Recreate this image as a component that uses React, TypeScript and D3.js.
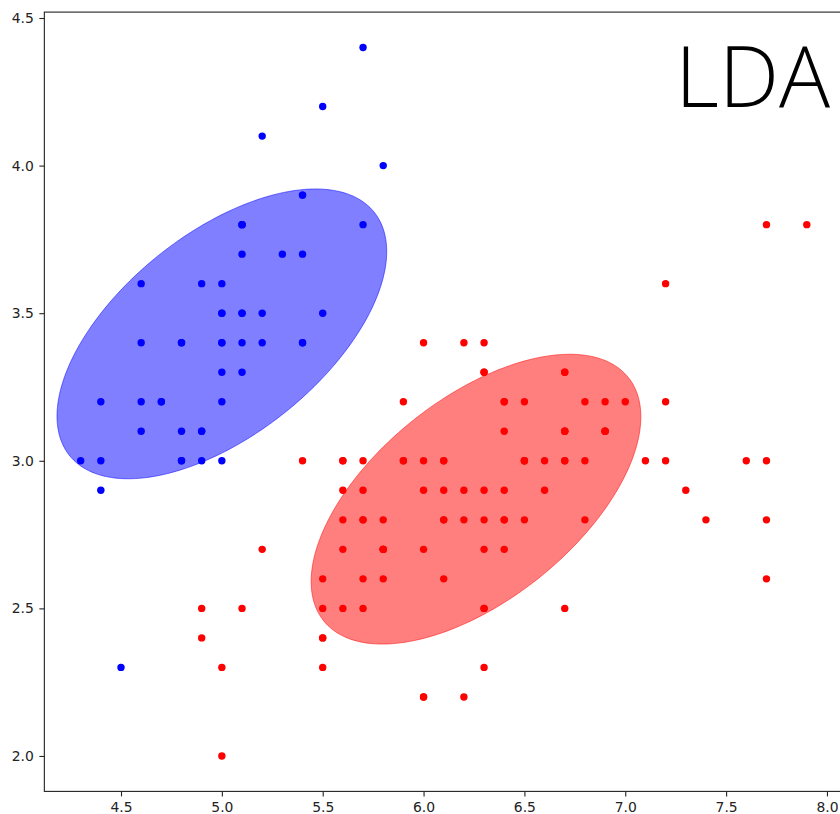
import React, { useEffect, useRef } from "react";
import * as d3 from "d3";

// sepal length / sepal width, class 0 (blue)
const blueLength = [
  5.1, 4.9, 4.7, 4.6, 5.0, 5.4, 4.6, 5.0, 4.4, 4.9, 5.4, 4.8, 4.8, 4.3, 5.8, 5.7, 5.4,
  5.1, 5.7, 5.1, 5.4, 5.1, 4.6, 5.1, 4.8, 5.0, 5.0, 5.2, 5.2, 4.7, 4.8, 5.4, 5.2, 5.5,
  4.9, 5.0, 5.5, 4.9, 4.4, 5.1, 5.0, 4.5, 4.4, 5.0, 5.1, 4.8, 5.1, 4.6, 5.3, 5.0,
];
const blueWidth = [
  3.5, 3.0, 3.2, 3.1, 3.6, 3.9, 3.4, 3.4, 2.9, 3.1, 3.7, 3.4, 3.0, 3.0, 4.0, 4.4, 3.9,
  3.5, 3.8, 3.8, 3.4, 3.7, 3.6, 3.3, 3.4, 3.0, 3.4, 3.5, 3.4, 3.2, 3.1, 3.4, 4.1, 4.2,
  3.1, 3.2, 3.5, 3.6, 3.0, 3.4, 3.5, 2.3, 3.2, 3.5, 3.8, 3.0, 3.8, 3.2, 3.7, 3.3,
];

// class 1 (red)
const redLength = [
  7.0, 6.4, 6.9, 5.5, 6.5, 5.7, 6.3, 4.9, 6.6, 5.2, 5.0, 5.9, 6.0, 6.1, 5.6, 6.7, 5.6,
  5.8, 6.2, 5.6, 5.9, 6.1, 6.3, 6.1, 6.4, 6.6, 6.8, 6.7, 6.0, 5.7, 5.5, 5.5, 5.8, 6.0,
  5.4, 6.0, 6.7, 6.3, 5.6, 5.5, 5.5, 6.1, 5.8, 5.0, 5.6, 5.7, 5.7, 6.2, 5.1, 5.7,
  6.3, 5.8, 7.1, 6.3, 6.5, 7.6, 4.9, 7.3, 6.7, 7.2, 6.5, 6.4, 6.8, 5.7, 5.8, 6.4, 6.5,
  7.7, 7.7, 6.0, 6.9, 5.6, 7.7, 6.3, 6.7, 7.2, 6.2, 6.1, 6.4, 7.2, 7.4, 7.9, 6.4, 6.3,
  6.1, 7.7, 6.3, 6.4, 6.0, 6.9, 6.7, 6.9, 5.8, 6.8, 6.7, 6.7, 6.3, 6.5, 6.2, 5.9,
];
const redWidth = [
  3.2, 3.2, 3.1, 2.3, 2.8, 2.8, 3.3, 2.4, 2.9, 2.7, 2.0, 3.0, 2.2, 2.9, 2.9, 3.1, 3.0,
  2.7, 2.2, 2.5, 3.2, 2.8, 2.5, 2.8, 2.9, 3.0, 2.8, 3.0, 2.9, 2.6, 2.4, 2.4, 2.7, 2.7,
  3.0, 3.4, 3.1, 2.3, 3.0, 2.5, 2.6, 3.0, 2.6, 2.3, 2.7, 3.0, 2.9, 2.9, 2.5, 2.8,
  3.3, 2.7, 3.0, 2.9, 3.0, 3.0, 2.5, 2.9, 2.5, 3.6, 3.2, 2.7, 3.0, 2.5, 2.8, 3.2, 3.0,
  3.8, 2.6, 2.2, 3.2, 2.8, 2.8, 2.7, 3.3, 3.2, 2.8, 3.0, 2.8, 3.0, 2.8, 3.8, 2.8, 2.8,
  2.6, 3.0, 3.4, 3.1, 3.0, 3.1, 3.1, 3.1, 2.7, 3.2, 3.3, 3.0, 2.5, 3.0, 3.4, 3.0,
];

// ellipse centres (data units) and shared shape matrix [xx, xy, yy]
const ellipseCenters = [
  [5.0, 3.43],
  [6.26, 2.87],
];
const ellipseColors = ["blue", "red"];
const ellipseShape = [0.668, 0.228, 0.241];

const xTicks = [4.5, 5.0, 5.5, 6.0, 6.5, 7.0, 7.5, 8.0];
const yTicks = [2.0, 2.5, 3.0, 3.5, 4.0, 4.5];

const title = "LDA";

function App() {
  const ref = useRef<SVGSVGElement>(null);

  useEffect(() => {
    const svg = d3.select(ref.current);
    svg.selectAll("*").remove();

    const allX = blueLength.concat(redLength);
    const allY = blueWidth.concat(redWidth);
    const [x0, x1] = d3.extent(allX) as [number, number];
    const [y0, y1] = d3.extent(allY) as [number, number];
    const padX = (x1 - x0) * 0.05;
    const padY = (y1 - y0) * 0.05;

    const x = d3.scaleLinear().domain([x0 - padX, x1 + padX]).range([44.35, 843.1]);
    const y = d3.scaleLinear().domain([y0 - padY, y1 + padY]).range([791.4, 12.1]);

    // ellipses, drawn from the shape matrix through its cholesky factor
    const l11 = Math.sqrt(ellipseShape[0]);
    const l21 = ellipseShape[1] / l11;
    const l22 = Math.sqrt(ellipseShape[2] - l21 * l21);
    const ts = d3.range(0, 2 * Math.PI, Math.PI / 90);

    ellipseCenters.forEach((c, i) => {
      const ell = d3.line<number>()
        .x(t => x(c[0] + l11 * Math.cos(t)))
        .y(t => y(c[1] + l21 * Math.cos(t) + l22 * Math.sin(t)))
        .curve(d3.curveLinearClosed);
      svg.append("path")
        .attr("d", ell(ts))
        .attr("fill", ellipseColors[i])
        .attr("fill-opacity", 0.5)
        .attr("stroke", ellipseColors[i])
        .attr("stroke-opacity", 0.5)
        .attr("stroke-width", 1);
    });

    // points
    const dots = svg.append("g");
    blueLength.forEach((v, i) => {
      dots.append("circle")
        .attr("cx", x(v))
        .attr("cy", y(blueWidth[i]))
        .attr("r", 3.7)
        .attr("fill", "blue");
    });
    redLength.forEach((v, i) => {
      dots.append("circle")
        .attr("cx", x(v))
        .attr("cy", y(redWidth[i]))
        .attr("r", 3.7)
        .attr("fill", "red");
    });

    // axes
    const fmt = d3.format(".1f");
    const gx = svg.append("g")
      .attr("transform", `translate(0,${y.range()[0]})`)
      .call(d3.axisBottom(x).tickValues(xTicks).tickFormat(d => fmt(d as number)).tickSize(5).tickPadding(6));
    const gy = svg.append("g")
      .attr("transform", `translate(${x.range()[0]},0)`)
      .call(d3.axisLeft(y).tickValues(yTicks).tickFormat(d => fmt(d as number)).tickSize(5).tickPadding(5.5));
    [gx, gy].forEach(g => {
      g.select(".domain").remove();
      g.attr("font-family", "DejaVu Sans").attr("font-size", 13.9);
      g.selectAll("line").attr("stroke", "#222").attr("stroke-width", 1.1);
      g.selectAll("text").attr("fill", "#222");
    });

    // spines
    svg.append("rect")
      .attr("x", x.range()[0])
      .attr("y", y.range()[1])
      .attr("width", x.range()[1] - x.range()[0])
      .attr("height", y.range()[0] - y.range()[1])
      .attr("fill", "none")
      .attr("stroke", "#222")
      .attr("stroke-width", 1.1);

    svg.append("text")
      .attr("x", 830)
      .attr("y", 107)
      .attr("text-anchor", "end")
      .attr("font-family", "Open Sans")
      .attr("font-weight", 300)
      .attr("font-size", 85)
      .attr("fill", "#000")
      .text(title);
  }, []);

  return (
    <svg
      ref={ref}
      width={840}
      height={814}
      style={{ position: "absolute", left: 0, top: 0, background: "#fff" }}
    />
  );
}

export default App;
